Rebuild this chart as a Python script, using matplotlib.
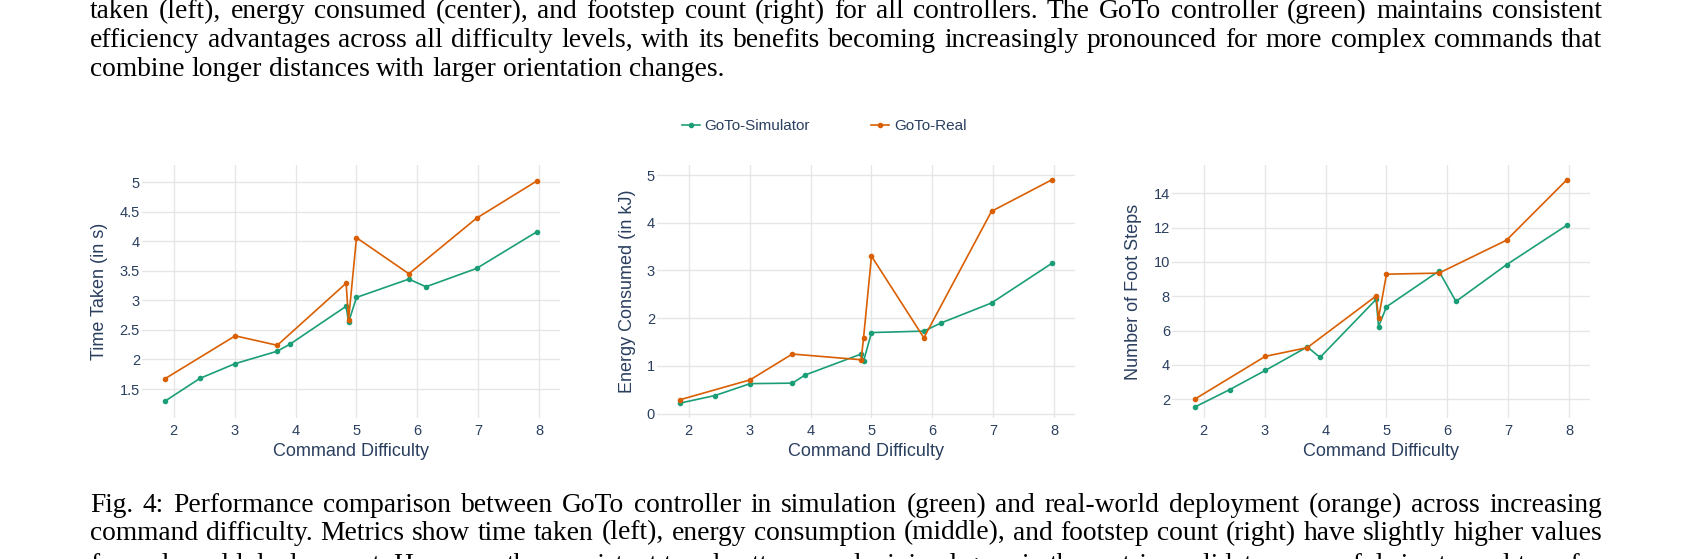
import matplotlib.pyplot as plt
from matplotlib.lines import Line2D
from matplotlib.ticker import FuncFormatter

# command difficulty of each run (simulator has a few extra runs)
sim_x = [1.85, 2.43, 3.01, 3.70, 3.91, 4.83, 4.87, 5.00, 5.86, 6.14, 6.97, 7.96]
real_x = [1.85, 3.01, 3.70, 4.83, 4.87, 5.00, 5.86, 6.97, 7.96]

time_sim = [1.29, 1.68, 1.93, 2.14, 2.26, 2.90, 2.63, 3.05, 3.36, 3.23, 3.54, 4.16]
time_real = [1.67, 2.40, 2.24, 3.29, 2.67, 4.06, 3.45, 4.39, 5.02]
energy_sim = [0.22, 0.38, 0.63, 0.64, 0.81, 1.25, 1.10, 1.70, 1.73, 1.90, 2.32, 3.15]
energy_real = [0.29, 0.71, 1.25, 1.13, 1.59, 3.30, 1.59, 4.24, 4.90]
steps_sim = [1.54, 2.57, 3.68, 5.05, 4.44, 7.82, 6.24, 7.39, 9.47, 7.70, 9.84, 12.14]
steps_real = [2.00, 4.50, 5.01, 8.02, 6.73, 9.29, 9.35, 11.27, 14.79]

x_ticks = [2, 3, 4, 5, 6, 7, 8]
y_labels = ["Time Taken (in s)", "Energy Consumed (in kJ)", "Number of Foot Steps"]
y_ticks = [[1.5, 2, 2.5, 3, 3.5, 4, 4.5, 5], [0, 1, 2, 3, 4, 5], [2, 4, 6, 8, 10, 12, 14]]
y_ranges = [(1.01, 5.29), (-0.09, 5.21), (0.91, 15.65)]
series_names = ["GoTo-Simulator", "GoTo-Real"]

text_above = [
    "taken (left), energy consumed (center), and footstep count (right) for all controllers. The GoTo controller (green) maintains consistent",
    "efficiency advantages across all difficulty levels, with its benefits becoming increasingly pronounced for more complex commands that",
    "combine longer distances with larger orientation changes.",
]
text_below = [
    "Fig. 4: Performance comparison between GoTo controller in simulation (green) and real-world deployment (orange) across increasing",
    "command difficulty. Metrics show time taken (left), energy consumption (middle), and footstep count (right) have slightly higher values",
    "for real-world deployment. However, the consistent trend patterns and minimal gaps in the metrics validate successful sim-to-real transfer",
]

GREEN = "#1b9e77"
ORANGE = "#d95f02"
FONT_COL = "#2a3f5f"
GRID = "#e6e6e6"

W, H = 1692, 559
fig = plt.figure(figsize=(W / 100, H / 100), dpi=100)
plt.rcParams['font.family'] = ['Liberation Sans', 'DejaVu Sans']

lefts = [142, 657, 1172]
width = 418
top, bottom = 165, 418
ylab_x = [100, 628, 1133]

panels = [(time_sim, time_real), (energy_sim, energy_real), (steps_sim, steps_real)]
for i, (sim, real) in enumerate(panels):
    ax = fig.add_axes([lefts[i] / W, 1 - bottom / H, width / W, (bottom - top) / H])
    ax.plot(sim_x, sim, color=GREEN, lw=1.2, marker='o', ms=3, zorder=3)
    ax.plot(real_x, real, color=ORANGE, lw=1.2, marker='o', ms=3, zorder=3)
    ax.set_xlim(1.48, 8.34)
    ax.set_ylim(*y_ranges[i])
    ax.set_xticks(x_ticks)
    ax.set_yticks(y_ticks[i])
    ax.yaxis.set_major_formatter(FuncFormatter(lambda v, p: f"{v:g}"))
    ax.grid(True, color=GRID, lw=1)
    ax.set_axisbelow(True)
    for s in ax.spines.values():
        s.set_visible(False)
    ax.tick_params(length=0, labelsize=10.5, labelcolor=FONT_COL)
    ax.tick_params(axis='y', pad=1.5)
    ax.tick_params(axis='x', pad=4)
    ax.set_xlabel("Command Difficulty", fontsize=13, color=FONT_COL, va='center')
    ax.xaxis.set_label_coords(0.5, -(452 - bottom) / (bottom - top))
    ax.set_ylabel(y_labels[i], fontsize=13, color=FONT_COL, va='center')
    ax.yaxis.set_label_coords((ylab_x[i] - lefts[i]) / width, 0.5)

handles = [Line2D([], [], color=GREEN, lw=1.2, marker='o', ms=3),
           Line2D([], [], color=ORANGE, lw=1.2, marker='o', ms=3)]
leg = fig.legend(handles, series_names, loc='center', bbox_to_anchor=(824 / W, 1 - 126 / H),
                 ncol=2, frameon=False, fontsize=11, handlelength=1.2, handletextpad=0.3,
                 columnspacing=4.0)
for t in leg.get_texts():
    t.set_color(FONT_COL)

# page text around the figure, justified like the paper
renderer = fig.canvas.get_renderer()
X0, X1 = 90, 1602
SERIF = ['Liberation Serif', 'DejaVu Serif']
CAP = 19.8


def put_line(line, y_base, size, justify=True):
    words = line.split(" ")
    objs = [fig.text(0, 0, w, fontsize=size, family=SERIF, va='baseline') for w in words]
    widths = [o.get_window_extent(renderer).width for o in objs]
    sp = fig.text(0, 0, "a a", fontsize=size, family=SERIF)
    sq = fig.text(0, 0, "aa", fontsize=size, family=SERIF)
    gap = sp.get_window_extent(renderer).width - sq.get_window_extent(renderer).width
    sp.remove()
    sq.remove()
    if justify and len(words) > 1:
        gap = (X1 - X0 - sum(widths)) / (len(words) - 1)
    x = X0
    for o, w in zip(objs, widths):
        o.set_position((x / W, 1 - y_base / H))
        x += w + gap


put_line(text_above[0], 18, CAP)
put_line(text_above[1], 47, CAP)
put_line(text_above[2], 75.5, CAP, justify=False)
put_line(text_below[0], 511.5, CAP)
put_line(text_below[1], 539.5, CAP)
put_line(text_below[2], 572, CAP)

fig.savefig("out.png", dpi=100)
